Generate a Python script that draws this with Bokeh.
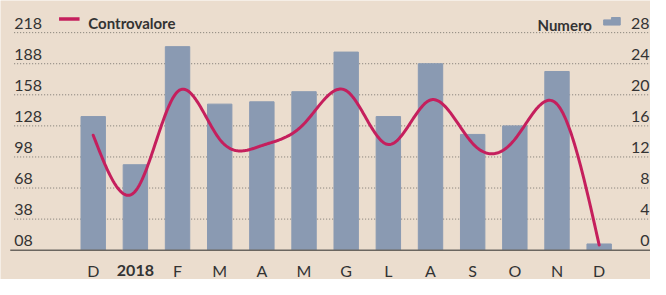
import numpy as np
from bokeh.plotting import figure
from bokeh.models import Range1d, ColumnDataSource, LabelSet
from bokeh.core.properties import value
from bokeh.embed import file_html
from bokeh.resources import INLINE

# ---------------- data ----------------
months = ["D", "2018", "F", "M", "A", "M", "G", "L", "A", "S", "O", "N", "D"]
numero = [17.2, 11.0, 26.2, 18.8, 19.1, 20.4, 25.5, 17.2, 24.0, 14.9, 16.0, 23.0, 0.8]
controvalore = [119, 65, 161, 115, 109, 130, 162, 110, 153, 111, 115, 149, 13]
left_ticks = [8, 38, 68, 98, 128, 158, 188, 218]
left_labels = ["08", "38", "68", "98", "128", "158", "188", "218"]
right_ticks = [0, 4, 8, 12, 16, 20, 24, 28]
right_labels = ["0", "4", "8", "12", "16", "20", "24", "28"]

# ---------------- style / geometry ----------------
BG = "#ebddce"
BAR = "#8a9ab2"
LINE = "#c51f5d"
TXT = "#333333"
FONT = "Lato"
W, H = 650, 279
KX = W / 666.0
KY = H / 295.0

PPX = 43.2 * KX                        # px per category
X0 = -95 * KX / PPX
X1 = X0 + W / PPX
BASE = 264 * KY
TOP = 34 * KY
PPL = (BASE - TOP) / 210               # px per unit (left)
L1 = 218 + TOP / PPL
L0 = L1 - H / PPL
PPR = (BASE - TOP) / 28                # px per unit (right)
R1 = 28 + TOP / PPR
R0 = R1 - H / PPR


def sx(px):
    return X0 + px * KX / PPX


def sy(py):
    return L1 - py * KY / PPL


p = figure(width=W, height=H, x_range=Range1d(X0, X1), y_range=Range1d(L0, L1),
           output_backend="svg", toolbar_location=None, min_border=0,
           x_axis_location=None, y_axis_location=None,
           background_fill_color=BG, border_fill_color=BG, outline_line_color=None)
p.extra_y_ranges = {"num": Range1d(R0, R1)}
p.grid.grid_line_color = None

# gridlines (dotted)
gy = left_ticks[1:]
p.segment(x0=[sx(14)] * len(gy), x1=[sx(666)] * len(gy), y0=gy, y1=gy,
          line_color="#7a7670", line_width=1, line_dash="1 2")

# bars
xs = list(range(len(months)))
p.vbar(x=xs, top=numero, bottom=0, width=25 * KX / PPX, color=BAR, y_range_name="num")

# baseline
p.segment(x0=[sx(10)], x1=[sx(666)], y0=[left_ticks[0]], y1=[left_ticks[0]],
          line_color="#6b6660", line_width=1.5)

# natural cubic spline rendering of the line series
y = np.array(controvalore, dtype=float)
n = len(y)
A = np.zeros((n, n))
b = np.zeros(n)
A[0, 0] = 1
A[-1, -1] = 1
for i in range(1, n - 1):
    A[i, i - 1] = 1
    A[i, i] = 4
    A[i, i + 1] = 1
    b[i] = 6 * (y[i + 1] - 2 * y[i] + y[i - 1])
M = np.linalg.solve(A, b)
fx, fy = [], []
for i in range(n - 1):
    t = np.linspace(0, 1, 40, endpoint=(i == n - 2))
    seg = ((1 - t) * y[i] + t * y[i + 1]
           + ((1 - t) ** 3 - (1 - t)) * M[i] / 6 + (t ** 3 - t) * M[i + 1] / 6)
    fx.extend(i + t)
    fy.extend(seg)
p.line(fx, fy, line_color=LINE, line_width=3, line_cap="round", line_join="round")

# tick labels (left and right)
lsrc = ColumnDataSource(dict(y=[v + 4 / PPL for v in left_ticks], t=left_labels,
                             x=[sx(14)] * len(left_ticks)))
p.add_layout(LabelSet(x="x", y="y", text="t", source=lsrc, text_font=value(FONT),
                      text_font_size="16px", text_color=TXT, text_align="left",
                      text_baseline="alphabetic"))
rsrc = ColumnDataSource(dict(y=[v + 4 / PPR for v in right_ticks], t=right_labels,
                             x=[sx(665)] * len(right_ticks)))
p.add_layout(LabelSet(x="x", y="y", text="t", source=rsrc, y_range_name="num",
                      text_font=value(FONT), text_font_size="16px", text_color=TXT,
                      text_align="right", text_baseline="alphabetic"))

# category labels
reg = [i for i, m in enumerate(months) if m != "2018"]
yr = [i for i, m in enumerate(months) if m == "2018"]
p.text(x=reg, y=[sy(286)] * len(reg), text=[months[i] for i in reg],
       text_font=value(FONT), text_font_size="16px", text_color=TXT,
       text_align="center", text_baseline="alphabetic")
p.text(x=yr, y=[sy(286)] * len(yr), text=[months[i] for i in yr],
       text_font=value(FONT), text_font_size="16px", text_font_style="bold",
       text_color=TXT, text_align="center", text_baseline="alphabetic")

# legend: Controvalore
p.line(x=[sx(60), sx(81)], y=[sy(19.5), sy(19.5)], line_color=LINE, line_width=3.5)
p.text(x=[sx(90)], y=[sy(23.5)], text=["Controvalore"], text_font=value(FONT),
       text_font_size="15px", text_font_style="bold", text_color=TXT,
       text_baseline="alphabetic")
# legend: Numero
p.text(x=[sx(606)], y=[sy(25.5)], text=["Numero"], text_font=value(FONT),
       text_font_size="15px", text_font_style="bold", text_color=TXT,
       text_align="right", text_baseline="alphabetic")
p.quad(left=[sx(618), sx(626)], right=[sx(626), sx(635)],
       bottom=[sy(26), sy(26)], top=[sy(20.5), sy(18)], color=BAR)

open("out.html", "w").write(file_html(p, INLINE))
